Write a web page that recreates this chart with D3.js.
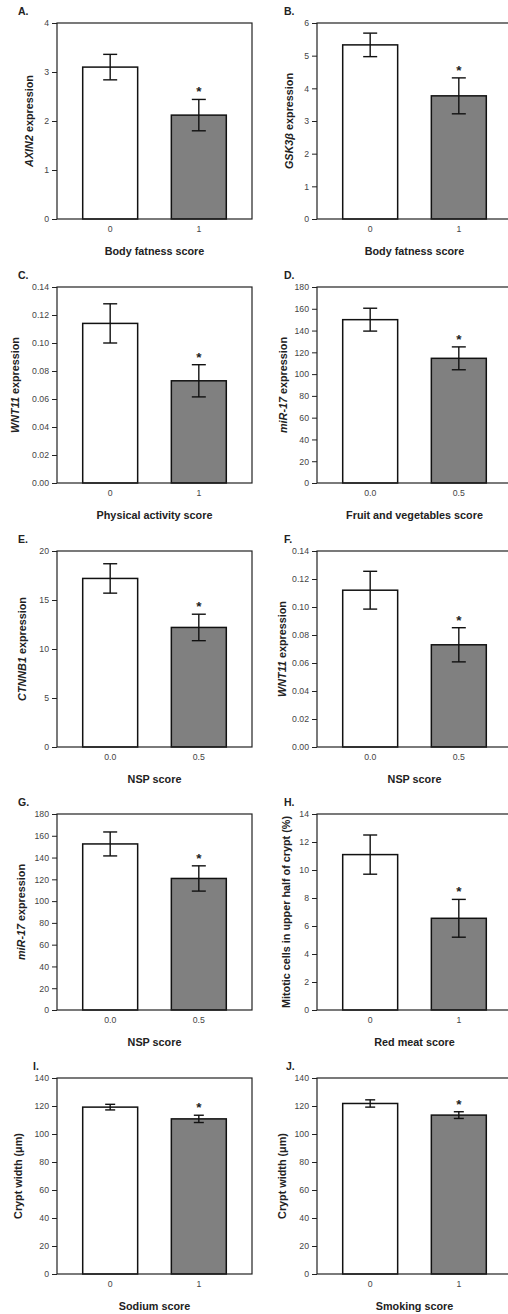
<!DOCTYPE html>
<html>
<head>
<meta charset="utf-8">
<script src="https://cdn.jsdelivr.net/npm/d3@7"></script>
<style>
  body { margin: 0; background: #fff; }
  svg { display: block; font-family: "Liberation Sans", Arial, sans-serif; }
</style>
</head>
<body>
<svg id="chart" width="508" height="1314"></svg>
<script>
// panel data, A..J
const panelLetters = ["A.", "B.", "C.", "D.", "E.", "F.", "G.", "H.", "I.", "J."];
const xTitles = ["Body fatness score", "Body fatness score", "Physical activity score",
  "Fruit and vegetables score", "NSP score", "NSP score", "NSP score",
  "Red meat score", "Sodium score", "Smoking score"];
// y titles: [text, italic?] pieces
const yTitles = [
  [["AXIN2", true], [" expression", false]],
  [["GSK3\u03B2", true], [" expression", false]],
  [["WNT11", true], [" expression", false]],
  [["miR-17", true], [" expression", false]],
  [["CTNNB1", true], [" expression", false]],
  [["WNT11", true], [" expression", false]],
  [["miR-17", true], [" expression", false]],
  [["Mitotic cells in upper half of crypt (%)", false]],
  [["Crypt width (", false], ["\u03BCm", false], [")", false]],
  [["Crypt width (", false], ["\u03BCm", false], [")", false]]
];
const xCategories = [["0", "1"], ["0", "1"], ["0", "1"], ["0.0", "0.5"], ["0.0", "0.5"],
  ["0.0", "0.5"], ["0.0", "0.5"], ["0", "1"], ["0", "1"], ["0", "1"]];
const yMax = [4, 6, 0.14, 180, 20, 0.14, 180, 14, 140, 140];
const yStep = [1, 1, 0.02, 20, 5, 0.02, 20, 2, 20, 20];
const yDecimals = [0, 0, 2, 0, 0, 2, 0, 0, 0, 0];
const meanValues = [
  [3.10, 2.12], [5.33, 3.77], [0.114, 0.073], [150, 114.5], [17.2, 12.2],
  [0.112, 0.073], [152.5, 120.8], [11.1, 6.55], [119.2, 110.8], [121.8, 113.5]
];
const errValues = [
  [0.26, 0.32], [0.36, 0.55], [0.014, 0.0115], [10.5, 10.5], [1.5, 1.35],
  [0.0135, 0.0122], [11, 11.6], [1.4, 1.35], [2.0, 2.6], [2.6, 2.4]
];
const significant = [[false, true], [false, true], [false, true], [false, true], [false, true],
  [false, true], [false, true], [false, true], [false, true], [false, true]];
const barFills = ["#ffffff", "#808080"];

// layout
const colLeft = [57, 317];
const rowTop = [23, 287, 551, 814, 1078];
const plotW = 195, plotH = 196;
const yTitleOffset = [28, 28, 42, 34, 35, 35, 36, 31, 39, 35];
const letterX = [18, 284, 18, 284, 18, 284, 18, 284, 33, 286];
const font = "'Liberation Sans', Arial, sans-serif";

const svg = d3.select("#chart");

panelLetters.forEach((letter, i) => {
  const left = colLeft[i % 2];
  const top = rowTop[Math.floor(i / 2)];
  const g = svg.append("g").attr("transform", `translate(${left},${top})`);

  const x = d3.scaleBand().domain(xCategories[i]).range([0, plotW])
    .paddingInner(0.38).paddingOuter(0.29);
  const y = d3.scaleLinear().domain([0, yMax[i]]).range([plotH, 0]);
  const ticks = d3.range(0, yMax[i] + yStep[i] / 2, yStep[i]);

  // y axis
  const yAxis = d3.axisLeft(y).tickValues(ticks).tickSize(5).tickPadding(3)
    .tickFormat(d => d.toFixed(yDecimals[i]));
  const ya = g.append("g").call(yAxis);
  ya.select(".domain").remove();
  ya.selectAll(".tick line").attr("stroke", "#222").attr("stroke-width", 1);
  ya.selectAll(".tick text").attr("fill", "#444").style("font-size", "8.7px")
    .style("font-family", font);

  // x axis labels (no ticks)
  const xa = g.append("g").attr("transform", `translate(0,${plotH})`)
    .call(d3.axisBottom(x).tickSize(0).tickPadding(7));
  xa.select(".domain").remove();
  xa.selectAll(".tick text").attr("fill", "#444").style("font-size", "8.7px")
    .style("font-family", font);

  const rows = xCategories[i].map((c, k) => ({
    cat: c, mean: meanValues[i][k], err: errValues[i][k], sig: significant[i][k], k: k
  }));

  // bars
  g.selectAll("rect.bar").data(rows).enter().append("rect")
    .attr("class", "bar")
    .attr("x", d => x(d.cat))
    .attr("y", d => y(d.mean))
    .attr("width", x.bandwidth())
    .attr("height", d => plotH - y(d.mean))
    .attr("fill", d => barFills[d.k])
    .attr("stroke", "#111")
    .attr("stroke-width", 1.5);

  // error bars
  const cap = i >= 8 ? 5 : 7;
  rows.forEach(d => {
    const cx = x(d.cat) + x.bandwidth() / 2;
    const y1 = y(d.mean + d.err), y0 = y(d.mean - d.err);
    g.append("line").attr("x1", cx).attr("x2", cx).attr("y1", y1).attr("y2", y0)
      .attr("stroke", "#111").attr("stroke-width", 1.4);
    [y1, y0].forEach(yy => g.append("line")
      .attr("x1", cx - cap).attr("x2", cx + cap).attr("y1", yy).attr("y2", yy)
      .attr("stroke", "#111").attr("stroke-width", 1.4));
    if (d.sig) {
      g.append("text").attr("x", cx).attr("y", y1 - 3)
        .attr("text-anchor", "middle").attr("fill", "#222")
        .style("font-size", "13.5px").style("font-weight", "bold").text("*");
    }
  });

  // frame
  g.append("rect").attr("x", 0).attr("y", 0).attr("width", plotW).attr("height", plotH)
    .attr("fill", "none").attr("stroke", "#222").attr("stroke-width", 1.2);

  // x title
  g.append("text").attr("x", plotW / 2).attr("y", plotH + 36)
    .attr("text-anchor", "middle").attr("fill", "#222")
    .style("font-size", "10.8px").style("font-weight", "bold")
    .text(xTitles[i]);

  // y title
  const yt = g.append("text")
    .attr("transform", `translate(${-yTitleOffset[i]},${plotH / 2}) rotate(-90)`)
    .attr("text-anchor", "middle").attr("dy", "0.35em").attr("fill", "#222")
    .style("font-size", "10.8px").style("font-weight", "bold");
  yTitles[i].forEach(([t, it]) => {
    yt.append("tspan").style("font-style", it ? "italic" : "normal").text(t);
  });

  // panel letter
  svg.append("text").attr("x", letterX[i]).attr("y", top - 8)
    .attr("fill", "#222").style("font-size", "10.5px").style("font-weight", "bold")
    .text(letter);
});
</script>
</body>
</html>
